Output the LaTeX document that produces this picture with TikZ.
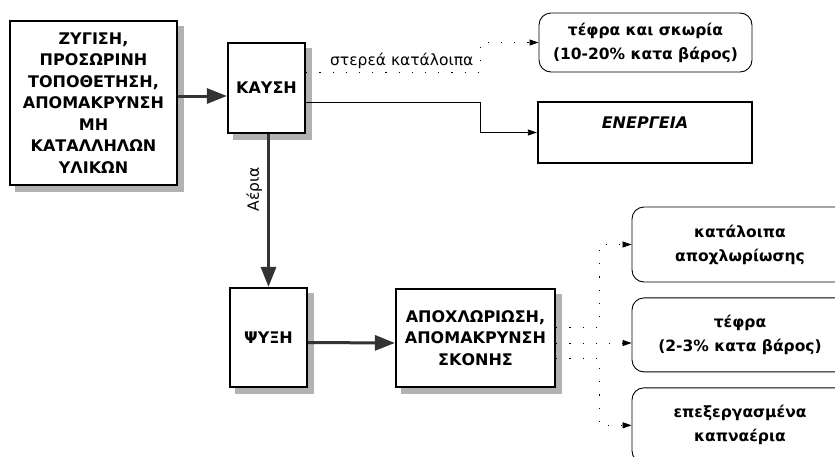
\documentclass[tikz,border=0pt]{standalone}
\usepackage{fontspec}
\setmainfont{DejaVu Sans}
\usetikzlibrary{arrows.meta,positioning,backgrounds}
\tikzset{
  procbox/.style={draw, line width=2.2pt, fill=white, align=center, inner sep=0pt,
    font=\bfseries\fontsize{16}{21.5}\selectfont},
  boxshadow/.style={fill=gray!60},
  outbox/.style={draw, line width=0.9pt, rounded corners=12pt, align=center, inner sep=0pt,
    font=\bfseries\fontsize{15.5}{24}\selectfont},
  mainarr/.style={-{Triangle[length=20pt, width=15pt]}, line width=3pt, draw=black!80, fill=black!80},
  linkarr/.style={-{Triangle[length=9pt, width=6pt]}, line width=0.8pt},
  dotarr/.style={linkarr, dash pattern=on 1.2pt off 12pt},
}
\begin{document}
\begin{tikzpicture}[x=1pt, y=-1pt, font=\fontsize{15.5}{18}\selectfont]
  \useasboundingbox (0,0) rectangle (835,456);
  \clip (0,0) rectangle (835,456);
  % process boxes
  \node[procbox, minimum width=167pt, minimum height=164pt] (input) at (93.5,103)
    {ΖΥΓΙΣΗ,\\ΠΡΟΣΩΡΙΝΗ\\ΤΟΠΟΘΕΤΗΣΗ,\\ΑΠΟΜΑΚΡΥΝΣΗ\\ΜΗ\\ΚΑΤΑΛΛΗΛΩΝ\\ΥΛΙΚΩΝ};
  \node[procbox, minimum width=77pt, minimum height=90pt] (kaysh) at (266.5,88) {ΚΑΥΣΗ};
  \node[procbox, minimum width=77pt, minimum height=99pt] (cool) at (268.5,337.5) {ΨΥΞΗ};
  \node[procbox, minimum width=159pt, minimum height=98pt] (dechlor) at (475.5,338)
    {ΑΠΟΧΛΩΡΙΩΣΗ,\\ΑΠΟΜΑΚΡΥΝΣΗ\\ΣΚΟΝΗΣ};
  \begin{scope}[on background layer]
    \foreach \n in {input,kaysh,cool,dechlor}
      \fill[boxshadow] ([xshift=6pt,yshift=-6pt]\n.south west) rectangle ([xshift=6pt,yshift=-6pt]\n.north east);
  \end{scope}
  % outputs
  \node[outbox, minimum width=213pt, minimum height=59pt] (residue) at (645.5,42.5)
    {τέφρα και σκωρία\\(10-20\% κατα βάρος)};
  \node[draw, line width=2.2pt, minimum width=214pt, minimum height=61pt, inner sep=0pt,
    text height=26pt, text depth=35pt, font=\bfseries\itshape\fontsize{16}{18}\selectfont]
    (energy) at (645,132.5) {ΕΝΕΡΓΕΙΑ};
  \node[outbox, minimum width=216pt, minimum height=75pt] (chlres) at (740,244.5)
    {κατάλοιπα\\αποχλωρίωσης};
  \node[outbox, minimum width=216pt, minimum height=74pt, below=15pt of chlres] (ash)
    {τέφρα\\(2-3\% κατα βάρος)};
  \node[outbox, minimum width=216pt, minimum height=75pt, below=15pt of ash] (flue)
    {επεξεργασμένα\\καπναέρια};
  % bends
  \coordinate (sbend) at (480,72);
  \coordinate (ebend) at (480,102);
  \coordinate (dbus) at (599,0);
  % main flow
  \draw[mainarr] ([yshift=7pt]input.east) -- ([yshift=-8pt]kaysh.west);
  \draw[mainarr] (kaysh.south -| cool.north) -- (cool.north)
    node[pos=.36, rotate=90, anchor=south, inner sep=5pt, draw=none, fill=none] {Αέρια};
  \draw[mainarr] ([yshift=-5pt]cool.east) -- ([yshift=-5pt]dechlor.west);
  % side streams
  \draw[dotarr] ([yshift=16pt]kaysh.east) -- (sbend)
    node[pos=.55, above, inner sep=3pt] {στερεά κατάλοιπα} |- (residue.west);
  \draw[linkarr] ([yshift=-14pt]kaysh.east) -- (ebend) |- (energy.west);
  \draw[dotarr] ([yshift=11pt]dechlor.east) -| (chlres.west -| dbus) -- (chlres.west);
  \draw[dotarr] ([yshift=-5pt]dechlor.east) -- ([yshift=-5pt]dechlor.east -| ash.west);
  \draw[dotarr] ([yshift=-20pt]dechlor.east) -| (flue.west -| dbus) -- (flue.west);
\end{tikzpicture}
\end{document}
